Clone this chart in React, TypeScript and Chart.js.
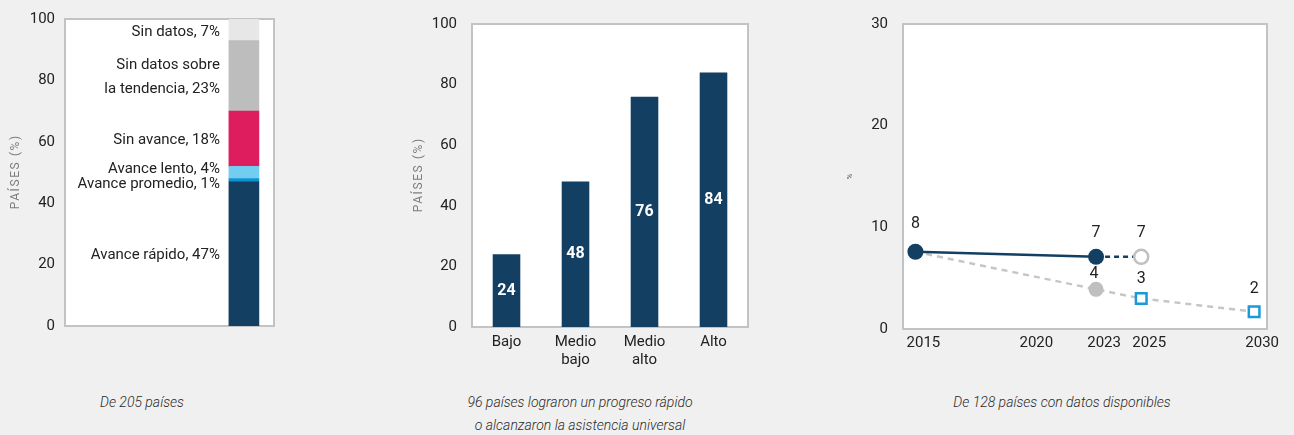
import React, { useEffect, useRef } from 'react';
import { Chart, registerables } from 'chart.js';

Chart.register(...registerables);

const FONT = "Roboto, 'Liberation Sans', sans-serif";
const NAVY = '#133f63';
const TEXT = '#222222';

// ---- Panel 1: stacked status bar ----
const statusLabels: string[][] = [
  ['Avance rápido, 47%'],
  ['Avance promedio, 1%'],
  ['Avance lento, 4%'],
  ['Sin avance, 18%'],
  ['Sin datos sobre', 'la tendencia, 23%'],
  ['Sin datos, 7%'],
];
const statusValues = [47, 1, 4, 18, 23, 7];
const statusColors = ['#133f63', '#0b93d2', '#72cdf0', '#de1d5f', '#bdbdbd', '#e7e7e7'];
const statusLabelShift = [1, 4, -3.5, 2, 1.5, 3];

// ---- Panel 2: income groups ----
const incomeGroups: (string | string[])[] = ['Bajo', ['Medio', 'bajo'], ['Medio', 'alto'], 'Alto'];
const incomeValues = [24, 48, 76, 84];
const incomeValueLabels = ['24', '48', '76', '84'];

// ---- Panel 3: trend ----
const yearTicks = [2015, 2020, 2023, 2025, 2030];
const observedYears = [2015, 2023];
const observedValues = [7.6, 7.1];
const observedLabels = ['8', '7'];
const projectedYears = [2023, 2025];
const projectedValues = [7.1, 7.1];
const projectedLabels = ['', '7'];
const benchmarkYears = [2015, 2023, 2025, 2030];
const benchmarkValues = [7.6, 3.9, 3.0, 1.7];
const benchmarkLabels = ['', '4', '3', '2'];

const plotFrame = {
  id: 'plotFrame',
  beforeDatasetsDraw(chart: any) {
    const { ctx, chartArea: a } = chart;
    ctx.save();
    ctx.fillStyle = '#ffffff';
    ctx.fillRect(a.left, a.top, a.right - a.left, a.bottom - a.top);
    ctx.strokeStyle = '#c3c3c3';
    ctx.lineWidth = 2;
    ctx.strokeRect(a.left, a.top, a.right - a.left, a.bottom - a.top);
    ctx.restore();
  },
};

// rotated y-axis title with letter spacing
const yTitle = {
  id: 'yTitle',
  afterDraw(chart: any, _args: any, opts: any) {
    if (!opts || !opts.text) return;
    const { ctx, chartArea: a } = chart;
    ctx.save();
    ctx.translate(opts.x, (a.top + a.bottom) / 2);
    ctx.rotate(-Math.PI / 2);
    ctx.font = `${opts.size}px ${FONT}`;
    (ctx as any).letterSpacing = `${opts.spacing}px`;
    ctx.fillStyle = opts.color;
    ctx.textAlign = 'center';
    ctx.textBaseline = 'middle';
    ctx.fillText(opts.text, opts.spacing / 2, 0);
    ctx.restore();
  },
};

const segmentLabels = {
  id: 'segmentLabels',
  afterDatasetsDraw(chart: any) {
    const { ctx } = chart;
    ctx.save();
    ctx.font = `15px ${FONT}`;
    ctx.fillStyle = TEXT;
    ctx.textAlign = 'right';
    ctx.textBaseline = 'middle';
    statusLabels.forEach((lines, i) => {
      const el = chart.getDatasetMeta(i).data[0];
      if (!el) return;
      const cy = (el.y + el.base) / 2 + statusLabelShift[i];
      const x = el.x - el.width / 2 - 9;
      const lh = 24;
      lines.forEach((t, k) => {
        ctx.fillText(t, x, cy + (k - (lines.length - 1) / 2) * lh);
      });
    });
    ctx.restore();
  },
};

const barValueLabels = {
  id: 'barValueLabels',
  afterDatasetsDraw(chart: any) {
    const { ctx } = chart;
    const meta = chart.getDatasetMeta(0);
    ctx.save();
    ctx.font = `bold 16px ${FONT}`;
    ctx.fillStyle = '#ffffff';
    ctx.textAlign = 'center';
    ctx.textBaseline = 'middle';
    meta.data.forEach((el: any, i: number) => {
      ctx.fillText(incomeValueLabels[i], el.x, (el.y + el.base) / 2);
    });
    ctx.restore();
  },
};

const pointTexts = {
  id: 'pointTexts',
  afterDatasetsDraw(chart: any) {
    const { ctx } = chart;
    ctx.save();
    ctx.font = `16px ${FONT}`;
    ctx.fillStyle = TEXT;
    ctx.textAlign = 'center';
    ctx.textBaseline = 'middle';
    chart.data.datasets.forEach((ds: any, i: number) => {
      const meta = chart.getDatasetMeta(i);
      meta.data.forEach((el: any, k: number) => {
        const t = ds.pointText?.[k];
        if (!t) return;
        ctx.fillText(t, el.x + (ds.pointTextDx?.[k] ?? 0), el.y - ds.pointTextDy[k]);
      });
    });
    ctx.restore();
  },
};

const tickFont = { family: FONT, size: 15 };

function makeStatus(): any {
  return {
    type: 'bar',
    data: {
      datasets: statusValues.map((v, i) => ({
        label: statusLabels[i].join(' '),
        data: [{ x: 0.856, y: v }],
        backgroundColor: statusColors[i],
        borderWidth: 0,
        barThickness: 30,
      })),
    },
    options: {
      responsive: false,
      animation: false,
      devicePixelRatio: 1,
      layout: { padding: { top: 15, right: 16, bottom: 19, left: 0 } },
      plugins: {
        legend: { display: false },
        tooltip: { enabled: false },
        yTitle: { text: 'PAÍSES (%)', x: 16, size: 12, spacing: 1.6, color: '#7d7d7d' },
      },
      scales: {
        x: { type: 'linear', min: 0, max: 1, display: false, stacked: true, offset: false },
        y: {
          stacked: true,
          min: 0,
          max: 100,
          ticks: { stepSize: 20, padding: 10, color: TEXT, font: tickFont },
          grid: { display: false, drawTicks: false },
          border: { display: false },
          afterFit: (s: any) => {
            s.width = 65;
          },
        },
      },
    },
    plugins: [plotFrame, segmentLabels, yTitle],
  };
}

function makeIncome(): any {
  return {
    type: 'bar',
    data: {
      labels: incomeGroups,
      datasets: [
        {
          data: incomeValues,
          backgroundColor: NAVY,
          borderWidth: 0,
          barPercentage: 0.8,
          categoryPercentage: 0.5,
        },
      ],
    },
    options: {
      responsive: false,
      animation: false,
      devicePixelRatio: 1,
      layout: { padding: { top: 15, right: 12, bottom: 3, left: 0 } },
      plugins: {
        legend: { display: false },
        tooltip: { enabled: false },
        yTitle: { text: 'PAÍSES (%)', x: 19, size: 12, spacing: 1.6, color: '#7d7d7d' },
      },
      scales: {
        x: {
          ticks: { padding: 6, color: TEXT, font: tickFont, maxRotation: 0 },
          grid: { display: false, drawTicks: false },
          border: { display: false },
          afterFit: (s: any) => {
            s.height = 40;
          },
        },
        y: {
          min: 0,
          max: 100,
          ticks: { stepSize: 20, padding: 15, color: TEXT, font: tickFont },
          grid: { display: false, drawTicks: false },
          border: { display: false },
          afterFit: (s: any) => {
            s.width = 72;
          },
        },
      },
    },
    plugins: [plotFrame, barValueLabels, yTitle],
  };
}

function makeTrend(): any {
  const pts = (xs: number[], ys: number[]) => xs.map((x, i) => ({ x, y: ys[i] }));
  return {
    type: 'line',
    data: {
      datasets: [
        {
          data: pts(observedYears, observedValues),
          borderColor: NAVY,
          borderWidth: 2.5,
          pointRadius: 8,
          pointBackgroundColor: NAVY,
          pointBorderWidth: 0,
          pointText: observedLabels,
          pointTextDy: [28, 24],
        },
        {
          data: pts(projectedYears, projectedValues),
          borderColor: NAVY,
          borderWidth: 2.5,
          borderDash: [5, 4],
          pointRadius: [0, 7],
          pointBackgroundColor: '#ffffff',
          pointBorderColor: '#c0c0c0',
          pointBorderWidth: 2.5,
          pointText: projectedLabels,
          pointTextDy: [24, 24],
        },
        {
          data: pts(benchmarkYears, benchmarkValues),
          borderColor: '#c6c6c6',
          borderWidth: 2.5,
          borderDash: [6, 5],
          pointStyle: ['circle', 'circle', 'rect', 'rect'],
          pointRadius: [0, 7.5, 7.5, 7.5],
          pointBackgroundColor: ['#bfbfbf', '#bfbfbf', '#ffffff', '#ffffff'],
          pointBorderColor: ['#bfbfbf', '#bfbfbf', '#1a9ad6', '#1a9ad6'],
          pointBorderWidth: [0, 0, 2.5, 2.5],
          pointText: benchmarkLabels,
          pointTextDy: [0, 15, 20, 23],
          pointTextDx: [0, -2, 0, 0],
        },
      ],
    },
    options: {
      responsive: false,
      animation: false,
      devicePixelRatio: 1,
      layout: { padding: { top: 16, right: 27, bottom: 9, left: 0 } },
      plugins: {
        legend: { display: false },
        tooltip: { enabled: false },
        yTitle: { text: '%', x: 20, size: 8, spacing: 0, color: '#555555' },
      },
      scales: {
        x: {
          type: 'linear',
          min: 2014.45,
          max: 2030.57,
          afterBuildTicks: (s: any) => {
            s.ticks = yearTicks.map((v) => ({ value: v }));
          },
          ticks: {
            autoSkip: false,
            maxRotation: 0,
            labelOffset: 8,
            padding: 5,
            color: TEXT,
            font: tickFont,
            callback: (v: any) => String(v),
          },
          grid: { display: false, drawTicks: false },
          border: { display: false },
          afterFit: (s: any) => {
            s.height = 22;
          },
        },
        y: {
          min: 0,
          max: 30,
          ticks: { stepSize: 10, padding: 15, color: TEXT, font: tickFont },
          grid: { display: false, drawTicks: false },
          border: { display: false },
          afterFit: (s: any) => {
            s.width = 73;
          },
        },
      },
    },
    plugins: [plotFrame, pointTexts, yTitle],
  };
}

function ChartBox({ left, top, width, height, make }: { left: number; top: number; width: number; height: number; make: () => any }) {
  const ref = useRef<HTMLCanvasElement>(null);
  useEffect(() => {
    const chart = new Chart(ref.current as HTMLCanvasElement, make());
    return () => chart.destroy();
  }, []);
  return (
    <canvas
      ref={ref}
      width={width}
      height={height}
      style={{ position: 'absolute', left, top, width, height }}
    />
  );
}

const captionStyle: React.CSSProperties = {
  position: 'absolute',
  fontFamily: FONT,
  fontStyle: 'italic',
  fontWeight: 300,
  fontSize: 14,
  lineHeight: '23px',
  color: '#2a2a2a',
  textAlign: 'center',
  width: 400,
  whiteSpace: 'nowrap',
};

export default function App() {
  return (
    <div
      style={{
        position: 'absolute',
        left: 0,
        top: 0,
        width: 1294,
        height: 435,
        background: '#f0f0f0',
        overflow: 'hidden',
      }}
    >
      <ChartBox left={0} top={0} width={290} height={345} make={makeStatus} />
      <ChartBox left={400} top={0} width={360} height={370} make={makeIncome} />
      <ChartBox left={830} top={0} width={464} height={360} make={makeTrend} />
      <div style={{ ...captionStyle, left: 142 - 200, top: 391 }}>De 205 países</div>
      <div style={{ ...captionStyle, left: 580 - 200, top: 391 }}>
        96 países lograron un progreso rápido
        <br />o alcanzaron la asistencia universal
      </div>
      <div style={{ ...captionStyle, left: 1062 - 200, top: 391 }}>De 128 países con datos disponibles</div>
    </div>
  );
}
